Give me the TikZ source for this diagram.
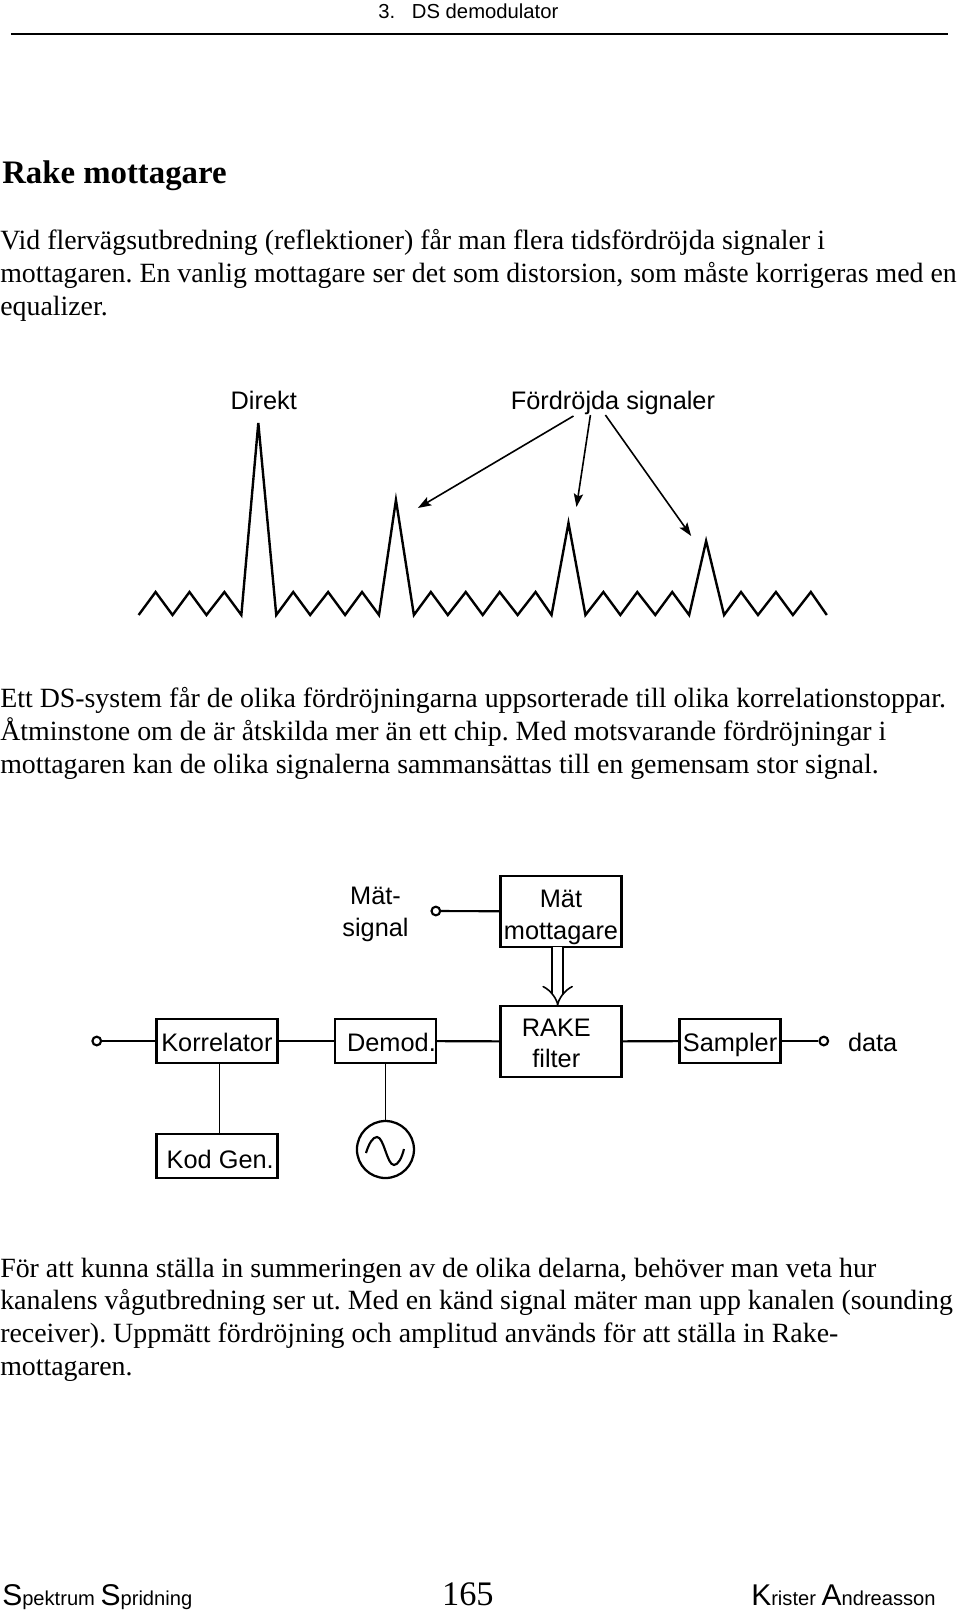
\documentclass[tikz,border=0pt]{standalone}
\usepackage{fontspec}
\setmainfont{Liberation Serif}
\setsansfont{Liberation Sans}
\usetikzlibrary{arrows.meta}
\frenchspacing
\newcommand{\bodyfont}{\fontsize{20.9}{24.4}\selectfont}
\newcommand{\labfont}{\sffamily\fontsize{19}{23.4}\selectfont}
\newcommand{\bigS}{\fontsize{22.5}{24}\selectfont}
\newcommand{\smallS}{\fontsize{15.1}{24}\selectfont}
\tikzset{
  body/.style={anchor=base west,inner sep=0pt,align=left,font=\bodyfont},
  lab/.style={anchor=base west,inner sep=0pt,align=left,font=\labfont},
  blockbox/.style={draw,line width=1.7pt,inner sep=0pt,outer sep=0pt,align=center,font=\labfont},
  kbox/.style={blockbox,minimum width=90.75pt,minimum height=33pt,text height=15pt,text depth=0pt},
  dbox/.style={blockbox,minimum width=75.75pt,minimum height=33pt,text height=15pt,text depth=0pt},
  mbox/.style={blockbox,minimum width=90.75pt,minimum height=53.25pt},
  port/.style={circle,draw,line width=1.6pt,inner sep=0pt,minimum size=6.5pt},
  wire/.style={line width=1.6pt},
  stem/.style={line width=1.3pt},
  peak/.style={line width=1.8pt,line join=miter},
}
\begin{document}
\begin{tikzpicture}[x=.748pt,y=-.75pt,>={Stealth[length=10pt,width=7pt,inset=2pt]}]
 \useasboundingbox (0,0) rectangle (962.6,1613);

 % page head
 \node[lab,font=\sffamily\fontsize{15.2}{18}\selectfont] (head) at (379,18) {3.\hspace{12.6pt}DS demodulator};
 \coordinate (r0) at (11,34);
 \coordinate (r1) at (951,34);
 \draw[line width=1.8pt] (r0) -- (r1);
 \node[body,font=\bfseries\fontsize{24.6}{28}\selectfont] (title) at (2,183) {Rake mottagare};
 \node[body] (p1) at (0,315) {Vid flervägsutbredning (reflektioner) får man flera tidsfördröjda signaler i\\
  mottagaren. En vanlig mottagare ser det som distorsion, som måste korrigeras med en\\
  equalizer.};

 % pulses
 \node[lab] (dir) at (231,409) {Direkt};
 \node[lab] (ford) at (512,409) {Fördröjda signaler};
 \draw[peak] (139,615) -- (156,592) -- (173,615) -- (190,592) -- (207,615) -- (225,592) -- (242,615)
  -- (259,423) -- (277,615) -- (294,592) -- (311,615) -- (329,592) -- (346,615) -- (363,592) -- (380,615)
  -- (397,500) -- (415,615) -- (432,592) -- (449,615) -- (467,592) -- (484,615) -- (501,592) -- (519,615) -- (537,592) -- (553,615)
  -- (570,523) -- (587,615) -- (605,592) -- (622,615) -- (639,592) -- (657,615) -- (674,592) -- (691,615)
  -- (708,541) -- (726,615) -- (743,592) -- (760,615) -- (778,592) -- (795,615) -- (813,592) -- (829,615);
 \coordinate (s1) at (575,416);
 \coordinate (s2) at (592,415);
 \coordinate (s3) at (607,415);
 \coordinate (t1) at (419,508);
 \coordinate (t2) at (578,507);
 \coordinate (t3) at (693,536);
 \foreach \from/\to in {s1/t1,s2/t2,s3/t3}
 \draw [->,line width=1.2pt] (\from) -- (\to);

 \node[body] (p2) at (0,773) {Ett DS-system får de olika fördröjningarna uppsorterade till olika korrelationstoppar.\\
  Åtminstone om de är åtskilda mer än ett chip. Med motsvarande fördröjningar i\\
  mottagaren kan de olika signalerna sammansättas till en gemensam stor signal.};

 % receiver
 \node[lab,align=center,anchor=base] (msig) at (376.5,936) {Mät-\\signal};
 \node[port] (in0) at (437,911) {};
 \node[mbox] (mat) at (562.5,911.5) {\rule{0pt}{22pt}Mät\\mottagare};
 \node[port] (in1) at (97,1041) {};
 \node[kbox] (kor) at (217.5,1041) {Korrelator};
 \node[dbox] (dem) at (386.5,1041) {\hspace*{9pt}Demod.};
 \node[mbox] (rake) at (562.5,1041.5) {\rule{0pt}{16pt}RAKE\hspace*{7pt}\\filter\hspace*{7pt}};
 \node[dbox] (sam) at (732,1041) {Sampler};
 \node[port] (ut) at (826,1041) {};
 \node[lab] (dat) at (850,1051) {data};
 \node[kbox,text height=18pt] (kod) at (217.5,1156) {\hspace*{5pt}Kod Gen.};
 \node[circle,draw,line width=1.7pt,inner sep=0pt,minimum size=42.75pt] (osc) at (386.5,1149.5) {};
 \draw[wire,shift={(osc.center)}] (-19.5,3.5) .. controls (-16.5,-6.5) and (-12.5,-12.5) .. (-8.5,-12.5)
  .. controls (-1.5,-12.5) and (1.5,15.5) .. (8.5,15.5) .. controls (12.5,15.5) and (16.5,8.5) .. (18.5,-.5);

 \foreach \from/\to in {in0/mat,in1/kor,kor/dem,dem/rake,rake/sam,sam/ut}
 \draw [wire] (\from) -- (\to);
 \draw [stem] (dem) -- (osc);
 \draw [stem] ([xshift=2pt]kor.south) -- ([xshift=2pt]kod.north);
 \draw [double,double distance=7pt,line width=1.2pt,-{Implies[]}] ([xshift=-2.5pt]mat.south) -- ([xshift=-2.5pt]rake.north);

 \node[body] (p3) at (0,1375) {För att kunna ställa in summeringen av de olika delarna, behöver man veta hur\\
  kanalens vågutbredning ser ut. Med en känd signal mäter man upp kanalen (sounding\\
  receiver). Uppmätt fördröjning och amplitud används för att ställa in Rake-\\
  mottagaren.};

 % page foot
 \node[lab] (foot0) at (2,1605) {\bigS S\smallS pektrum \bigS S\smallS pridning};
 \node[body,font=\fontsize{25.8}{28}\selectfont] (page) at (443,1605) {165};
 \node[lab] (foot1) at (753,1605) {\bigS K\smallS rister \bigS A\smallS ndreasson};
\end{tikzpicture}
\end{document}
